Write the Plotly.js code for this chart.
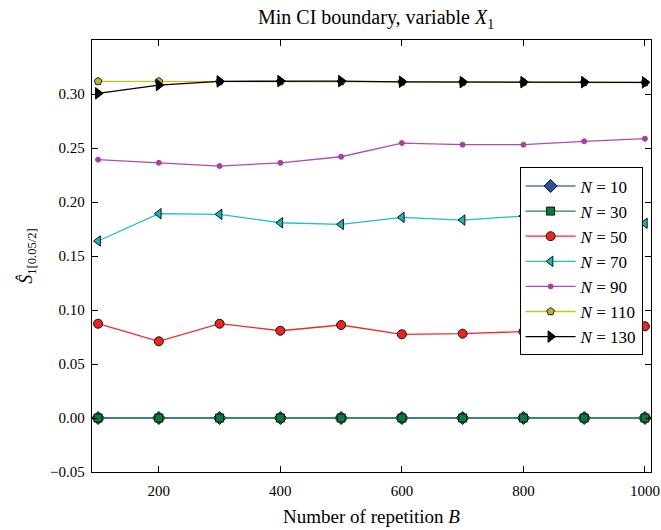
<!DOCTYPE html>
<html>
<head>
<meta charset="utf-8">
<script src="https://cdn.plot.ly/plotly-3.0.1.min.js"></script>
<style>html,body{margin:0;padding:0;background:#fff;}#chart{width:661px;height:530px;}</style>
</head>
<body>
<div id="chart"></div>
<script>
// Number of repetitions B
const B = [100, 200, 300, 400, 500, 600, 700, 800, 900, 1000];

// Series: lower CI boundary for each sample size N
const seriesNames = ["N = 10", "N = 30", "N = 50", "N = 70", "N = 90", "N = 110", "N = 130"];
const N10  = [0, 0, 0, 0, 0, 0, 0, 0, 0, 0];
const N30  = [0, 0, 0, 0, 0, 0, 0, 0, 0, 0];
const N50  = [0.0873, 0.0710, 0.0873, 0.0808, 0.0861, 0.0775, 0.0781, 0.0800, 0.0820, 0.0849];
const N70  = [0.1639, 0.1892, 0.1886, 0.1808, 0.1793, 0.1858, 0.1833, 0.1870, 0.1840, 0.1803];
const N90  = [0.2392, 0.2363, 0.2333, 0.2363, 0.2419, 0.2546, 0.2531, 0.2531, 0.2562, 0.2586];
const N110 = [0.3117, 0.3117, 0.3115, 0.3115, 0.3115, 0.3112, 0.3110, 0.3108, 0.3107, 0.3105];
const N130 = [0.3006, 0.3083, 0.3117, 0.3120, 0.3120, 0.3113, 0.3110, 0.3110, 0.3110, 0.3108];

const xTicks = [200, 400, 600, 800, 1000];
const yTicks = [-0.05, 0.00, 0.05, 0.10, 0.15, 0.20, 0.25, 0.30];

const serif = "Liberation Serif, DejaVu Serif, serif";

function legendLabel(name) {
  const parts = name.split(" = ");
  return "<i>" + parts[0] + "</i> = " + parts[1];
}

const styles = [
  {line: "#5a6fbd", fill: "#2f4f9f", symbol: "diamond", size: 10, outline: "#111"},
  {line: "#23854a", fill: "#0c7a3a", symbol: "square", size: 8, outline: "#111"},
  {line: "#f02a2a", fill: "#ec2424", symbol: "circle", size: 9, outline: "#111"},
  {line: "#1fc0c0", fill: "#1db5bb", symbol: "triangle-left", size: 9, outline: "#111"},
  {line: "#b04cae", fill: "#a8409f", symbol: "circle", size: 5, outline: "#a8409f"},
  {line: "#c4c41a", fill: "#b8b825", symbol: "pentagon", size: 8, outline: "#222"},
  {line: "#000000", fill: "#000000", symbol: "triangle-right", size: 10, outline: "#000"}
];
const allY = [N10, N30, N50, N70, N90, N110, N130];

const traces = allY.map((ys, i) => ({
  x: B,
  y: ys,
  type: "scatter",
  mode: "lines+markers",
  name: legendLabel(seriesNames[i]),
  line: {color: styles[i].line, width: 1.3},
  marker: {symbol: styles[i].symbol, size: styles[i].size, color: styles[i].fill,
           line: {color: styles[i].outline, width: 1}},
  cliponaxis: false
}));

const layout = {
  width: 661, height: 530,
  margin: {l: 92, r: 10, t: 40, b: 58},
  paper_bgcolor: "#fff", plot_bgcolor: "#fff",
  font: {family: serif, color: "#000", size: 15},
  title: {text: "Min CI boundary, variable <i>X</i><sub>1</sub>", x: 0.569, xanchor: "center", y: 0.967, yanchor: "middle",
          font: {family: serif, size: 20, color: "#000"}},
  xaxis: {
    range: [90, 1010], tickvals: xTicks, ticktext: xTicks.map(String),
    ticks: "inside", ticklen: 6, tickwidth: 1, tickcolor: "#000",
    showline: true, linecolor: "#000", linewidth: 1.2, mirror: "allticks",
    showgrid: false, zeroline: false, ticklabelstandoff: 5,
    tickfont: {family: serif, size: 15, color: "#000"},
    title: {text: "Number of repetition <i>B</i>", font: {family: serif, size: 19, color: "#000"}, standoff: 11}
  },
  yaxis: {
    range: [-0.05, 0.35], tickvals: yTicks, ticktext: yTicks.map(v => (v < 0 ? "\u2212" : "") + Math.abs(v).toFixed(2)),
    ticks: "inside", ticklen: 6, tickwidth: 1, tickcolor: "#000",
    showline: true, linecolor: "#000", linewidth: 1.2, mirror: "allticks",
    showgrid: false, zeroline: false, ticklabelstandoff: 3,
    tickfont: {family: serif, size: 15, color: "#000"},
    title: {text: "<i>Ŝ</i><sub>1[0.05/2]</sub>", font: {family: serif, size: 18, color: "#000"}, standoff: 12}
  },
  legend: {
    x: 0.985, xanchor: "right", y: 0.705, yanchor: "top",
    bgcolor: "#fff", bordercolor: "#000", borderwidth: 1,
    font: {family: serif, size: 17, color: "#000"},
    traceorder: "normal", itemwidth: 50
  },
  showlegend: true
};

Plotly.newPlot("chart", traces, layout, {displayModeBar: false, staticPlot: true});
</script>
</body>
</html>
